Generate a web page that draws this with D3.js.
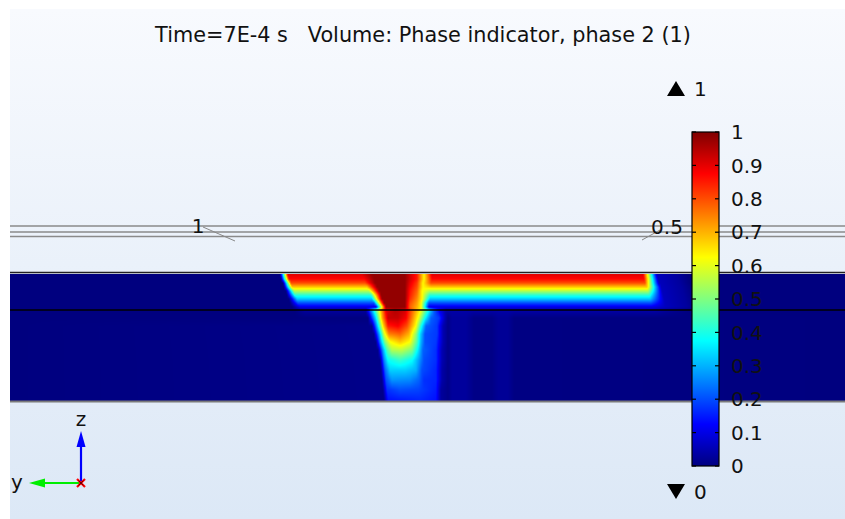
<!DOCTYPE html>
<html>
<head>
<meta charset="utf-8">
<script src="https://cdn.jsdelivr.net/npm/d3@7"></script>
<style>
  body { margin: 0; background: #fff; }
  text { font-family: "DejaVu Sans", sans-serif; }
</style>
</head>
<body>
<svg id="chart" width="845" height="519"></svg>
<script>
// ---- data ----
// horizontal position u (0 = left edge of the slab), depth z (0 = slab bottom)
const titleText = "Time=7E-4 s   Volume: Phase indicator, phase 2 (1)";

const guideLevels = [175, 169, 164.5];   // grey lines above the slab
const interfaceLevel = 91;               // black line between the two layers
const slabTop = 127;

// film rows (upper layer), one entry per row
const filmDepth = [126, 122, 118, 114, 110, 106, 102, 98, 94];
const filmValue = [0.9, 0.87, 0.8, 0.68, 0.55, 0.42, 0.32, 0.2, 0.1];
const filmLeft  = [273, 274, 276, 277, 279, 280, 282, 283, 285];
const plumeLeft = [360, 362, 363, 365, 367, 369, 370, 372, 374];
const plumeNear = [0.92, 0.92, 0.9, 0.88, 0.86, 0.85, 0.83, 0.8, 0.78];
const plumeFar  = [0.85, 0.85, 0.82, 0.8, 0.78, 0.76, 0.74, 0.72, 0.7];
const seamPos   = [414, 414, 413, 413, 412, 412, 412, 411, 411];
const filmRight = [633, 634, 635, 637, 638, 639, 640, 641, 642];

// rows at and below the interface: [u, value] breakpoints
const lowerDepth = [91, 83, 75, 67, 59, 51, 41, 31, 21, 11, 1];
const lowerProfiles = [
  [[0,0],[285,0],[295,0.03],[356,0.03],[363,0.35],[370,0.65],[376,0.9],[385,0.95],[395,0.92],[402,0.78],[411,0.62],[418,0.4],[424,0.22],[430,0.1],[436,0.04],[645,0.04],[660,0.02],[680,0],[835,0]],
  [[0,0],[358,0],[366,0.35],[372,0.7],[378,0.93],[388,0.93],[396,0.88],[402,0.75],[409,0.6],[415,0.38],[421,0.22],[429,0.18],[435,0.05]],
  [[0,0],[362,0.01],[368,0.35],[373,0.65],[378,0.85],[388,0.88],[397,0.8],[406,0.62],[411,0.4],[416,0.22],[427,0.18],[433,0.05]],
  [[0,0],[364,0.01],[370,0.33],[374,0.58],[379,0.75],[390,0.78],[399,0.7],[406,0.52],[410,0.35],[415,0.2],[427,0.18],[433,0.05]],
  [[0,0],[366,0.01],[371,0.3],[375,0.5],[380,0.62],[390,0.68],[400,0.62],[407,0.45],[411,0.3],[415,0.2],[426,0.18],[433,0.05]],
  [[0,0],[368,0.01],[373,0.28],[377,0.45],[382,0.55],[392,0.56],[402,0.5],[408,0.36],[413,0.22],[426,0.17],[432,0.05]],
  [[0,0],[370,0.01],[374,0.25],[378,0.38],[390,0.43],[402,0.38],[409,0.28],[414,0.2],[426,0.17],[432,0.05]],
  [[0,0],[371,0.01],[375,0.22],[380,0.33],[395,0.33],[406,0.3],[412,0.2],[426,0.16],[432,0.04]],
  [[0,0],[372,0.01],[376,0.2],[382,0.27],[400,0.26],[409,0.22],[414,0.17],[426,0.16],[432,0.04]],
  [[0,0],[373,0.01],[377,0.17],[390,0.2],[408,0.19],[426,0.15],[431,0.03]],
  [[0,0],[374,0.01],[378,0.14],[410,0.16],[426,0.14],[431,0.03]]
];
// faint streaks in the lower layer
const streaks = [[438,0.01],[442,0.028],[456,0.028],[464,0.008],[482,0.008],[488,0.022],[498,0.022],[504,0.004],[835,0]];

const cbTicks = [0, 0.1, 0.2, 0.3, 0.4, 0.5, 0.6, 0.7, 0.8, 0.9, 1];
const cbLabels = ["0", "0.1", "0.2", "0.3", "0.4", "0.5", "0.6", "0.7", "0.8", "0.9", "1"];

// ---- scales ----
const xScale = d3.scaleLinear().domain([0, 835]).range([10, 845]);
const zScale = d3.scaleLinear().domain([0, 127]).range([401, 274]);
const cbScale = d3.scaleLinear().domain([0, 1]).range([466, 132]);
const jet = d3.scaleLinear()
  .domain([0, 0.125, 0.375, 0.625, 0.875, 1])
  .range(["#00007f", "#0000ff", "#00ffff", "#ffff00", "#ff0000", "#7f0000"])
  .clamp(true);

const svg = d3.select("#chart");
const defs = svg.append("defs");

// background panel
const bg = defs.append("linearGradient").attr("id", "bg")
  .attr("x1", 0).attr("y1", 0).attr("x2", 0).attr("y2", 1);
bg.append("stop").attr("offset", 0).attr("stop-color", "#f8fafe");
bg.append("stop").attr("offset", 1).attr("stop-color", "#dce8f6");
svg.append("rect").attr("x", 10).attr("y", 9).attr("width", 835).attr("height", 510)
  .attr("fill", "url(#bg)");

svg.append("text").attr("x", 423).attr("y", 42).attr("text-anchor", "middle")
  .style("font-size", "20.8px").style("white-space", "pre").attr("fill", "#111")
  .text(titleText);

// ---- build the row table ----
const rows = [];
filmDepth.forEach((z, i) => {
  const f = filmValue[i], e = filmLeft[i], L = plumeLeft[i], V = seamPos[i], R = filmRight[i];
  rows.push({ z, pts: [[0,0],[e-3,0],[e+5,f],[L-8,f],[L+2,0.98],[395,0.98],[400,plumeNear[i]],
    [407,plumeFar[i]],[V,0.63],[V+8,f],[R,f],[R+14,0.06],[R+35,0.03],[R+45,0],[835,0]] });
});
lowerDepth.forEach((z, i) => {
  const pts = i === 0 ? lowerProfiles[i] : lowerProfiles[i].concat(streaks);
  rows.push({ z, pts });
});
rows.forEach(r => {
  r.scale = d3.scaleLinear().domain(r.pts.map(p => p[0])).range(r.pts.map(p => p[1])).clamp(true);
});

// ---- field image ----
const x0 = Math.round(xScale(0)), x1 = Math.round(xScale(835));
const y0 = Math.round(zScale(127)), y1 = Math.round(zScale(0));
const W = x1 - x0, H = y1 - y0;
const canvas = document.createElement("canvas");
canvas.width = W; canvas.height = H;
const ctx = canvas.getContext("2d");
const img = ctx.createImageData(W, H);
const rowVals = rows.map(r => {
  const a = new Float32Array(W);
  for (let i = 0; i < W; i++) a[i] = r.scale(xScale.invert(x0 + i + 0.5));
  return a;
});
const zs = rows.map(r => r.z);
for (let j = 0; j < H; j++) {
  const z = zScale.invert(y0 + j + 0.5);
  let k = 0;
  while (k < zs.length - 2 && z < zs[k + 1]) k++;
  let t = (zs[k] - z) / (zs[k] - zs[k + 1]);
  t = Math.max(0, Math.min(1, t));
  for (let i = 0; i < W; i++) {
    const v = rowVals[k][i] * (1 - t) + rowVals[k + 1][i] * t;
    const c = d3.rgb(jet(v));
    const p = (j * W + i) * 4;
    img.data[p] = c.r; img.data[p + 1] = c.g; img.data[p + 2] = c.b; img.data[p + 3] = 255;
  }
}
ctx.putImageData(img, 0, 0);
svg.append("image").attr("x", x0).attr("y", y0).attr("width", W).attr("height", H)
  .attr("preserveAspectRatio", "none").attr("href", canvas.toDataURL());

// ---- geometry lines ----
svg.selectAll("line.guide").data(guideLevels).join("line").attr("class", "guide")
  .attr("x1", xScale(0)).attr("x2", xScale(835))
  .attr("y1", d => zScale(d)).attr("y2", d => zScale(d))
  .attr("stroke", "#8a8a8a").attr("stroke-width", 1.6);
svg.append("line").attr("x1", xScale(0)).attr("x2", xScale(835))
  .attr("y1", zScale(slabTop) - 1.5).attr("y2", zScale(slabTop) - 1.5)
  .attr("stroke", "#222").attr("stroke-width", 1.5);
svg.append("line").attr("x1", xScale(0)).attr("x2", xScale(835))
  .attr("y1", zScale(interfaceLevel)).attr("y2", zScale(interfaceLevel))
  .attr("stroke", "#000").attr("stroke-width", 1.5);
svg.append("line").attr("x1", xScale(0)).attr("x2", xScale(835))
  .attr("y1", zScale(0) + 0.5).attr("y2", zScale(0) + 0.5)
  .attr("stroke", "#7a7a7a").attr("stroke-width", 2);

// line labels with leaders
svg.append("line").attr("x1", 203).attr("y1", 227).attr("x2", 235).attr("y2", 241)
  .attr("stroke", "#888").attr("stroke-width", 1);
svg.append("text").attr("x", 198).attr("y", 233).attr("text-anchor", "middle")
  .style("font-size", "20px").attr("fill", "#111").text("1");
svg.append("line").attr("x1", 642).attr("y1", 240).attr("x2", 660).attr("y2", 230)
  .attr("stroke", "#888").attr("stroke-width", 1);
svg.append("text").attr("x", 667).attr("y", 234).attr("text-anchor", "middle")
  .style("font-size", "20px").attr("fill", "#111").text("0.5");

// ---- colour bar ----
const cg = defs.append("linearGradient").attr("id", "cb")
  .attr("x1", 0).attr("y1", 1).attr("x2", 0).attr("y2", 0);
cg.selectAll("stop").data(jet.domain()).join("stop")
  .attr("offset", d => d).attr("stop-color", d => jet(d));
svg.append("rect").attr("x", 692).attr("y", cbScale(1)).attr("width", 27)
  .attr("height", cbScale(0) - cbScale(1))
  .attr("fill", "url(#cb)").attr("stroke", "#000").attr("stroke-width", 1.2);
svg.selectAll("line.tl").data(cbTicks).join("line").attr("class", "tl")
  .attr("x1", 692).attr("x2", 696).attr("y1", d => cbScale(d)).attr("y2", d => cbScale(d))
  .attr("stroke", "#000").attr("stroke-width", 1.2);
svg.selectAll("line.tr").data(cbTicks).join("line").attr("class", "tr")
  .attr("x1", 715).attr("x2", 719).attr("y1", d => cbScale(d)).attr("y2", d => cbScale(d))
  .attr("stroke", "#000").attr("stroke-width", 1.2);
svg.selectAll("text.cbl").data(cbTicks).join("text").attr("class", "cbl")
  .attr("x", 731).attr("y", d => cbScale(d)).attr("dy", "0.36em")
  .style("font-size", "20px").attr("fill", "#111")
  .text((d, i) => cbLabels[i]);

// max / min markers
svg.append("path").attr("d", "M667,96L676,81L685,96Z").attr("fill", "#000");
svg.append("text").attr("x", 694).attr("y", 96).style("font-size", "20px").attr("fill", "#111").text("1");
svg.append("path").attr("d", "M667,484L685,484L676,499Z").attr("fill", "#000");
svg.append("text").attr("x", 694).attr("y", 499).style("font-size", "20px").attr("fill", "#111").text("0");

// ---- axis triad ----
svg.append("line").attr("x1", 81).attr("y1", 483).attr("x2", 81).attr("y2", 444)
  .attr("stroke", "#0000ff").attr("stroke-width", 2.2);
svg.append("path").attr("d", "M76.5,447L81,431L85.5,447Z").attr("fill", "#0000ff");
svg.append("line").attr("x1", 81).attr("y1", 483).attr("x2", 42).attr("y2", 483)
  .attr("stroke", "#00ee00").attr("stroke-width", 2.2);
svg.append("path").attr("d", "M45,478.5L29,483L45,487.5Z").attr("fill", "#00ee00");
svg.append("path").attr("d", "M77,479L85,487M85,479L77,487")
  .attr("stroke", "#ff0000").attr("stroke-width", 2.2);
svg.append("path").attr("d", "M78.5,480.5L83.5,485.5M83.5,480.5L78.5,485.5")
  .attr("stroke", "#400000").attr("stroke-width", 0.8);
svg.append("text").attr("x", 81).attr("y", 426).attr("text-anchor", "middle")
  .style("font-size", "20px").attr("fill", "#111").text("z");
svg.append("text").attr("x", 17).attr("y", 489).attr("text-anchor", "middle")
  .style("font-size", "20px").attr("fill", "#111").text("y");
</script>
</body>
</html>
